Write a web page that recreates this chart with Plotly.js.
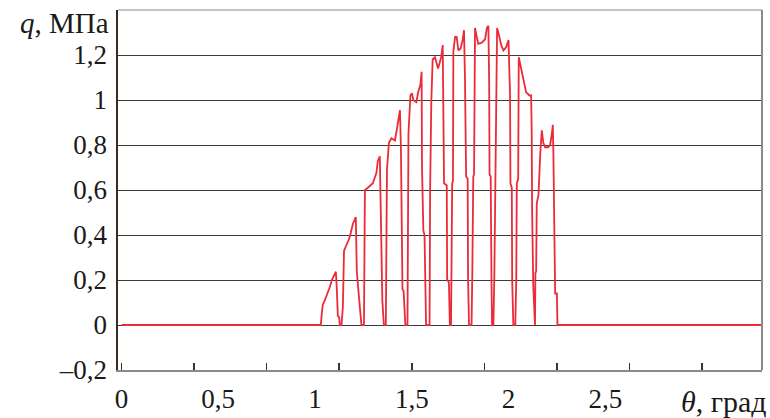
<!DOCTYPE html>
<html>
<head>
<meta charset="utf-8">
<script src="https://cdn.plot.ly/plotly-3.0.1.min.js"></script>
<style>
html,body{margin:0;padding:0;background:#fff;}
#chart{width:770px;height:418px;}
</style>
</head>
<body>
<div id="chart"></div>
<script>
// θ, град
const theta = [
  0, 1.030,
  1.035, 1.040, 1.051, 1.061, 1.077, 1.087, 1.108, 1.113, 1.118, 1.125, 1.128,
  1.137, 1.140, 1.144, 1.150, 1.160, 1.175, 1.185, 1.196, 1.211, 1.216, 1.224, 1.234, 1.240,
  1.253, 1.258, 1.273, 1.299, 1.317, 1.325, 1.335, 1.341, 1.348, 1.356,
  1.366, 1.372, 1.382, 1.395, 1.413, 1.423, 1.434, 1.439, 1.444, 1.447, 1.452, 1.458, 1.467,
  1.478, 1.483, 1.493, 1.501, 1.508, 1.524, 1.532, 1.545, 1.551, 1.553, 1.560, 1.566, 1.574,
  1.592, 1.595, 1.601, 1.608, 1.620, 1.636, 1.646, 1.652, 1.660, 1.663, 1.667, 1.681, 1.683, 1.692, 1.697,
  1.703, 1.706, 1.709, 1.713, 1.715, 1.724, 1.732, 1.741, 1.753, 1.763, 1.770, 1.775, 1.781, 1.789, 1.791, 1.796,
  1.809, 1.813, 1.818, 1.822, 1.827, 1.836, 1.844, 1.862, 1.879, 1.888, 1.896, 1.900, 1.902, 1.908, 1.909, 1.912, 1.915,
  1.922, 1.927, 1.932, 1.936, 1.941, 1.953, 1.962, 1.974, 1.988, 2.000, 2.004, 2.008, 2.010, 2.017, 2.019, 2.025,
  2.035, 2.040, 2.043, 2.050, 2.053, 2.062, 2.069, 2.077, 2.091, 2.108, 2.117, 2.120, 2.122, 2.128, 2.134,
  2.137, 2.139, 2.143, 2.146, 2.155, 2.164, 2.172, 2.180, 2.189, 2.205, 2.215, 2.224, 2.229, 2.232, 2.241, 2.250, 2.253,
  3.31
];
// q, МПа
const q = [
  0, 0,
  0.05, 0.09, 0.11, 0.13, 0.17, 0.20, 0.237, 0.156, 0.04, 0.035, 0,
  0, 0.05, 0.08, 0.33, 0.35, 0.38, 0.41, 0.45, 0.48, 0.24, 0.156, 0.07, 0,
  0, 0.60, 0.61, 0.63, 0.675, 0.73, 0.75, 0.36, 0.11, 0,
  0, 0.69, 0.81, 0.83, 0.82, 0.87, 0.94, 0.955, 0.79, 0.47, 0.16, 0.15, 0,
  0, 0.85, 1.02, 1.03, 1.00, 0.99, 1.03, 1.07, 1.125, 0.70, 0.42, 0.40, 0,
  0, 0.60, 0.99, 1.18, 1.19, 1.14, 1.17, 1.19, 1.244, 1.035, 0.63, 0.62, 0.20, 0.19, 0,
  0, 0.20, 0.63, 0.64, 1.215, 1.28, 1.28, 1.22, 1.23, 1.267, 1.31, 1.10, 0.66, 0.65, 0.20, 0,
  0, 0.23, 0.66, 0.67, 1.32, 1.28, 1.25, 1.255, 1.27, 1.32, 1.33, 1.08, 0.67, 0.66, 0.21, 0.20, 0,
  0, 0.23, 0.64, 0.66, 1.32, 1.28, 1.245, 1.22, 1.235, 1.267, 1.04, 1.02, 0.63, 0.61, 0.20, 0,
  0, 0.20, 0.63, 0.65, 1.19, 1.15, 1.12, 1.08, 1.035, 1.02, 1.02, 0.85, 0.51, 0.17, 0,
  0, 0.23, 0.24, 0.54, 0.58, 0.76, 0.865, 0.81, 0.79, 0.79, 0.80, 0.85, 0.89, 0.76, 0.14, 0.14, 0,
  0
];

const xTickVals = [0, 0.5, 1, 1.5, 2, 2.5];
const xTickText = ['0', '0,5', '1', '1,5', '2', '2,5'];
const yTickVals = [-0.2, 0, 0.2, 0.4, 0.6, 0.8, 1, 1.2];
const yTickText = ['–0,2', '0', '0,2', '0,4', '0,6', '0,8', '1', '1,2'];
const xTitle = '<i>θ</i>, град';
const yTitle = '<i>q</i>, МПа';

const FONT = 'Liberation Serif, Times New Roman, serif';
const xRange = [-0.018, 3.31];

const traces = [
  {
    x: theta, y: q, type: 'scatter', mode: 'lines',
    line: {color: '#ec2b38', width: 1.8},
    hoverinfo: 'skip', showlegend: false
  },
  {
    x: [], y: [], xaxis: 'x2', type: 'scatter', mode: 'lines',
    hoverinfo: 'skip', showlegend: false
  }
];

const layout = {
  width: 770, height: 418,
  margin: {l: 118, r: 8, t: 10, b: 48},
  paper_bgcolor: '#fff', plot_bgcolor: '#fff',
  font: {family: FONT, size: 27, color: '#1a1a1a'},
  showlegend: false,
  xaxis: {
    range: xRange, showgrid: false, zeroline: false,
    tick0: 0, dtick: 0.375, ticks: 'inside', ticklen: 7, tickwidth: 1.5, tickcolor: '#333',
    showticklabels: false,
    showline: true, linecolor: '#8a8a8a', linewidth: 1.5
  },
  xaxis2: {
    overlaying: 'x', side: 'bottom', anchor: 'y', range: xRange,
    showgrid: false, zeroline: false, showline: false,
    tickmode: 'array', tickvals: xTickVals, ticktext: xTickText,
    ticks: 'outside', ticklen: 5, tickcolor: 'rgba(0,0,0,0)',
    tickfont: {family: FONT, size: 27, color: '#1a1a1a'}
  },
  yaxis: {
    range: [-0.2, 1.4], zeroline: false,
    tickmode: 'array', tickvals: yTickVals, ticktext: yTickText,
    ticks: 'outside', ticklen: 3, tickcolor: 'rgba(0,0,0,0)',
    showgrid: true, gridcolor: '#3a3a3a', gridwidth: 1,
    showline: true, linecolor: '#3a2a20', linewidth: 2.5,
    tickfont: {family: FONT, size: 27, color: '#1a1a1a'}
  },
  shapes: [
    {type: 'line', xref: 'paper', yref: 'paper', x0: 0, x1: 1, y0: 1, y1: 1,
     line: {color: '#b0b0b0', width: 1.5}},
    {type: 'line', xref: 'paper', yref: 'paper', x0: 1, x1: 1, y0: 0, y1: 1,
     line: {color: '#8a8a8a', width: 2}}
  ],
  annotations: [
    {text: yTitle, xref: 'paper', yref: 'paper', x: 0, y: 1, xanchor: 'right', yanchor: 'middle',
     xshift: -7, yshift: -13, showarrow: false, font: {family: FONT, size: 29, color: '#1a1a1a'}},
    {text: xTitle, xref: 'paper', yref: 'paper', x: 1, y: 0, xanchor: 'right', yanchor: 'middle',
     xshift: 7, yshift: -31, showarrow: false, font: {family: FONT, size: 30, color: '#1a1a1a'}}
  ]
};

Plotly.newPlot('chart', traces, layout, {staticPlot: true, displayModeBar: false});
</script>
</body>
</html>
